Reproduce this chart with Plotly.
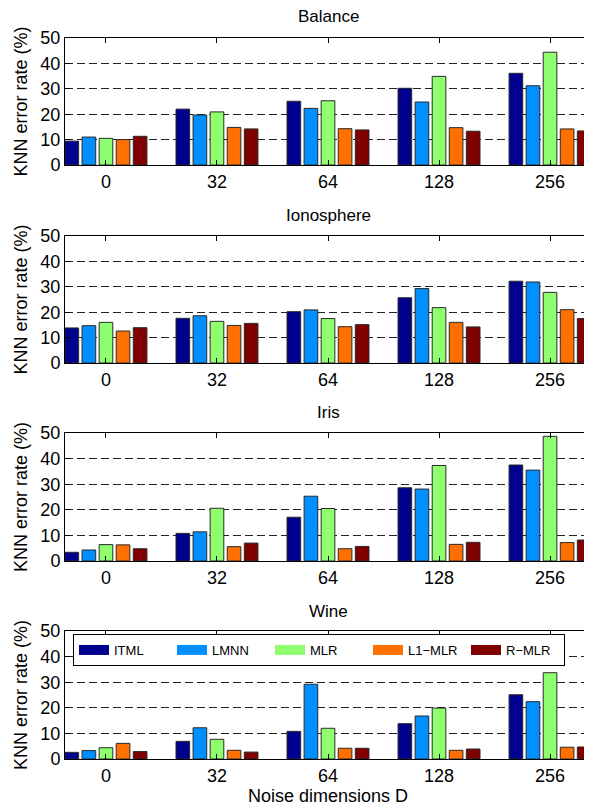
import plotly.graph_objects as go
from plotly.subplots import make_subplots

# ---------------- data ----------------
groups = ["0", "32", "64", "128", "256"]
methods = ["ITML", "LMNN", "MLR", "L1\u2212MLR", "R\u2212MLR"]
colors = ["#00008F", "#008FFF", "#8FFF70", "#FF7000", "#800000"]
datasets = ["Balance", "Ionosphere", "Iris", "Wine"]

balance_itml = [9.4, 22.0, 25.1, 30.2, 36.1]
balance_lmnn = [11.0, 19.7, 22.3, 24.8, 31.2]
balance_mlr = [10.5, 20.9, 25.3, 34.9, 44.4]
balance_l1mlr = [10.0, 14.8, 14.3, 14.7, 14.2]
balance_rmlr = [11.3, 14.2, 13.8, 13.3, 13.4]

iono_itml = [13.8, 17.6, 20.2, 25.7, 32.2]
iono_lmnn = [14.7, 18.6, 20.9, 29.3, 31.9]
iono_mlr = [16.0, 16.4, 17.5, 21.8, 27.8]
iono_l1mlr = [12.6, 14.8, 14.3, 16.0, 21.0]
iono_rmlr = [13.9, 15.6, 15.1, 14.2, 17.5]

iris_itml = [3.4, 10.8, 17.1, 28.6, 37.5]
iris_lmnn = [4.3, 11.4, 25.3, 28.1, 35.5]
iris_mlr = [6.4, 20.6, 20.5, 37.3, 48.7]
iris_l1mlr = [6.3, 5.6, 4.8, 6.5, 7.2]
iris_rmlr = [4.8, 7.0, 5.7, 7.3, 8.2]

wine_itml = [2.6, 6.9, 10.8, 13.8, 25.1]
wine_lmnn = [3.3, 12.2, 29.2, 16.8, 22.4]
wine_mlr = [4.4, 7.7, 12.0, 19.9, 33.7]
wine_l1mlr = [6.1, 3.4, 4.2, 3.4, 4.6]
wine_rmlr = [2.9, 2.7, 4.2, 3.9, 4.7]

all_data = [
    [balance_itml, balance_lmnn, balance_mlr, balance_l1mlr, balance_rmlr],
    [iono_itml, iono_lmnn, iono_mlr, iono_l1mlr, iono_rmlr],
    [iris_itml, iris_lmnn, iris_mlr, iris_l1mlr, iris_rmlr],
    [wine_itml, wine_lmnn, wine_mlr, wine_l1mlr, wine_rmlr],
]

yticks = [0, 10, 20, 30, 40, 50]

# ---------------- figure ----------------
W, H = 592, 805
OFF = 8            # page body margin offset (px)
ML = 65 - OFF      # plot area starts at x=65 on screen
MR = W - (591 - OFF)
FONT = "Liberation Sans, Arial, Helvetica, sans-serif"
fig = make_subplots(rows=4, cols=1)

xpos = list(range(1, len(groups) + 1))
for r, series in enumerate(all_data, start=1):
    for m, vals in enumerate(series):
        fig.add_trace(
            go.Bar(
                x=xpos, y=vals, name=methods[m],
                marker=dict(color=colors[m], line=dict(color="#2a2a2a", width=1)),
                showlegend=False,
            ),
            row=r, col=1,
        )

# legend-only entries (wide swatches)
for m in range(len(methods)):
    fig.add_trace(
        go.Scatter(
            x=[None], y=[None], mode="lines", name=methods[m],
            line=dict(color=colors[m], width=14),
            showlegend=True,
        ),
        row=4, col=1,
    )

# panel screen-pixel extents (top, bottom) and title centres
panels_px = [(38, 165), (236, 363), (433, 561), (631, 759)]
title_px = [16.7, 215.7, 413.0, 611.0]

def py(v):
    return 1 - (v - OFF) / H

for i, (t, b) in enumerate(panels_px, start=1):
    fig.update_yaxes(
        domain=[py(b), py(t)], range=[0, 50], tickvals=yticks,
        ticks="inside", ticklen=5, tickcolor="black", mirror="ticks",
        showline=True, linecolor="black", linewidth=1,
        showgrid=True, gridcolor="#222222", gridwidth=1, griddash="8px,4px",
        zeroline=False, automargin=False,
        tickfont=dict(family=FONT, size=18, color="black"),
        title=dict(text="KNN error rate (%)", font=dict(family=FONT, size=18, color="black"), standoff=8),
        row=i, col=1,
    )
    fig.update_xaxes(
        range=[0.631, 5.369], tickvals=xpos, ticktext=groups,
        ticks="inside", ticklen=5, tickcolor="black", mirror="ticks",
        showline=True, linecolor="black", linewidth=1,
        showgrid=False, zeroline=False, automargin=False,
        tickfont=dict(family=FONT, size=18, color="black"),
        row=i, col=1,
    )
    fig.add_annotation(
        text=datasets[i - 1], xref="paper", yref="paper",
        x=0.5, y=py(title_px[i - 1]), xanchor="center", yanchor="middle",
        showarrow=False, font=dict(family=FONT, size=17, color="black"),
    )

fig.update_xaxes(
    title=dict(text="Noise dimensions D", font=dict(family=FONT, size=18, color="black"), standoff=0),
    row=4, col=1,
)

fig.update_layout(
    template="none",
    width=W, height=H,
    margin=dict(l=ML, r=MR, t=0, b=0, autoexpand=False),
    paper_bgcolor="white", plot_bgcolor="white",
    barmode="group", bargap=0.231, bargroupgap=0.2,
    font=dict(family=FONT, size=18, color="black"),
    showlegend=True,
    legend=dict(
        orientation="h", x=(73 - 65) / (W - ML - MR), y=py(634),
        xanchor="left", yanchor="top",
        bgcolor="white", bordercolor="black", borderwidth=1,
        font=dict(family=FONT, size=13, color="black"),
        entrywidth=53, entrywidthmode="pixels",
        itemwidth=30, tracegroupgap=0,
    ),
)

fig.write_html("out.html")
